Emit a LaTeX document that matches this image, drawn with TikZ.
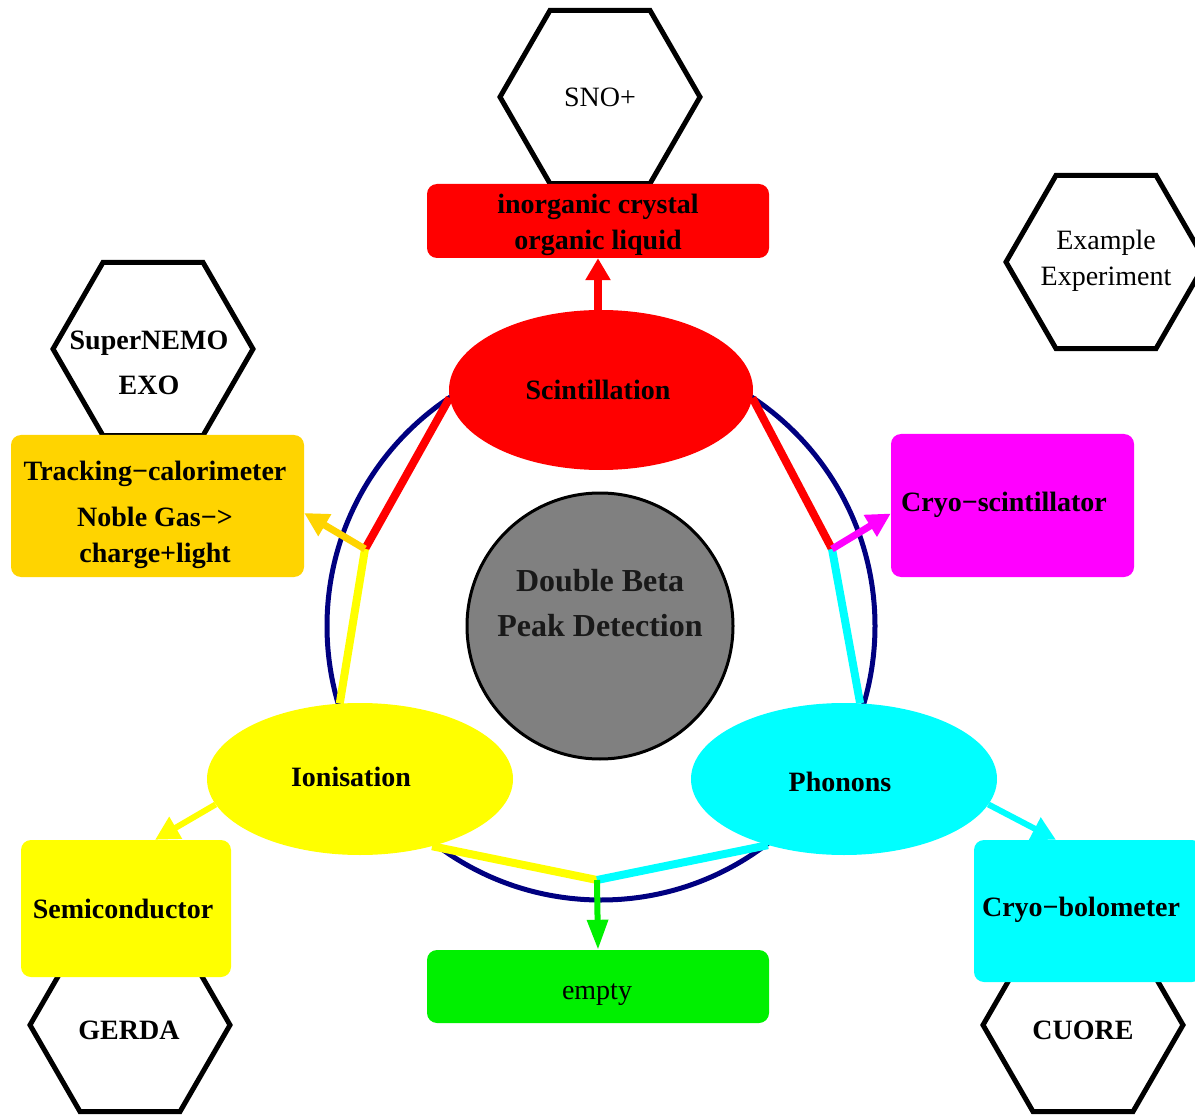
\documentclass[tikz,border=0pt]{standalone}
\usepackage{fontspec}
\setmainfont{Liberation Serif}
\usetikzlibrary{shapes.geometric,arrows.meta,calc}
\definecolor{navyc}{HTML}{000080}
\definecolor{goldc}{HTML}{FFD400}
\definecolor{greenc}{HTML}{00F000}
\definecolor{greyc}{HTML}{808080}
\definecolor{redc}{HTML}{FF0000}
\definecolor{yellc}{HTML}{FFFF00}
\definecolor{cyanc}{HTML}{00FFFF}
\definecolor{magc}{HTML}{FF00FF}
\pgfdeclarelayer{bg}
\pgfdeclarelayer{lines}
\pgfsetlayers{bg,lines,main}
\begin{document}
\begin{tikzpicture}[x=1pt,y=-1pt,
  txt/.style={font=\fontsize{28}{36}\selectfont, align=center, inner sep=0pt},
  btxt/.style={font=\fontsize{28}{36}\selectfont\bfseries, align=center, inner sep=0pt},
  hexa/.style={regular polygon, regular polygon sides=6, minimum size=200pt, draw=black, line width=5pt, inner sep=0pt, fill=white},
  box/.style={rounded corners=10pt, inner sep=0pt},
  ell/.style={ellipse, inner sep=0pt},
  conn/.style={line width=8pt},
  arr/.style={line width=7pt, -{Triangle[length=24pt,width=24pt]}},
]
\useasboundingbox (0,0) rectangle (1195,1115);
\begin{pgfonlayer}{bg}
  \fill[white] (0,0) rectangle (1195,1115);
  \node[circle, draw=navyc, line width=5pt, minimum size=548pt, inner sep=0pt] (ring) at (601,626) {};
\end{pgfonlayer}

% experiment hexagons
\node[hexa] (snoh) at (600,97) {};
\node[txt] (snot) at (600,97) {SNO+};
\node[hexa] (exh) at (1106,262) {};
\node[txt] (ext) at (1106,261) {Example\\Experiment};
\node[hexa] (nemh) at (153,349) {};
\node[btxt] (nemt) at (149,363) {SuperNEMO\\[9pt]EXO};
\node[hexa] (gerh) at (130,1025) {};
\node[btxt] (gert) at (129,1030) {GERDA};
\node[hexa] (cuoh) at (1083,1025) {};
\node[btxt] (cuot) at (1083,1030) {CUORE};

% technique boxes
\node[box, fill=redc, minimum width=342pt, minimum height=74pt] (rbox) at (598,221) {};
\node[btxt] (rboxt) at (598,225) {inorganic crystal\\organic liquid};
\node[box, fill=goldc, minimum width=293pt, minimum height=142pt] (track) at (157.5,506) {};
\node[btxt] (trackt) at (155,515) {Tracking−calorimeter\\[10pt]Noble Gas−>\\charge+light};
\node[box, fill=magc, minimum width=243pt, minimum height=143pt] (cscint) at (1012.5,505.5) {};
\node[btxt] (cscintt) at (1004,505) {Cryo−scintillator};
\node[box, fill=yellc, minimum width=210pt, minimum height=137pt] (semi) at (126,908.5) {};
\node[btxt] (semit) at (123,909) {Semiconductor};
\node[box, fill=cyanc, minimum width=228pt, minimum height=142pt] (cbolo) at (1088,911) {};
\node[btxt] (cbolot) at (1081,910) {Cryo−bolometer};
\node[box, fill=greenc, minimum width=342pt, minimum height=73pt] (empty) at (598,986.5) {};
\node[txt] (emptyt) at (597,995) {empty};

% signal ellipses
\node[ell, fill=redc, minimum width=304pt, minimum height=160pt] (scint) at (601,390) {};
\node[btxt] (scintt) at (598,390) {Scintillation};
\node[ell, fill=yellc, minimum width=306pt, minimum height=152pt] (ion) at (360,779) {};
\node[btxt] (iont) at (351,777) {Ionisation};
\node[ell, fill=cyanc, minimum width=306pt, minimum height=152pt] (phon) at (844,779) {};
\node[btxt] (phont) at (840,782) {Phonons};

% centre
\node[circle, draw=black, line width=3pt, fill=greyc, minimum size=266pt, inner sep=0pt] (core) at (600,626) {};
\node[font=\fontsize{32}{45}\selectfont\bfseries, align=center, inner sep=0pt, text=black!90] (coret) at (600,603) {Double Beta\\Peak Detection};

\coordinate (jl) at (365,549);
\coordinate (jr) at (832,549);
\coordinate (jb) at (597,880);

\begin{pgfonlayer}{lines}
  \draw[conn, redc] (scint.183) -- (jl);
  \draw[conn, yellc] (jl) -- (ion.105);
  \draw[conn, redc] (scint.357) -- (jr);
  \draw[conn, cyanc] (jr) -- (phon.78);
  \draw[conn, yellc] (ion.317) -- (jb);
  \draw[conn, cyanc] (phon.221) -- (jb);
  \draw[arr, goldc] (jl) -- ([yshift=-7pt]track.east);
  \draw[arr, magc] (jr) -- ([yshift=-8pt]cscint.west);
  \draw[arr, greenc, line width=6pt, -{Triangle[length=30pt,width=20pt]}] (jb) -- (empty.north);
  \draw[arr, redc, line width=8pt, -{Triangle[length=22pt,width=24pt]}] (scint.north -| rbox.south) -- (rbox.south);
  \draw[arr, yellc, line width=6pt] (ion.190) -- ([xshift=29pt]semi.north);
  \draw[arr, cyanc, line width=6pt] (phon.350) -- ([xshift=-32pt]cbolo.north);
\end{pgfonlayer}
\end{tikzpicture}
\end{document}
